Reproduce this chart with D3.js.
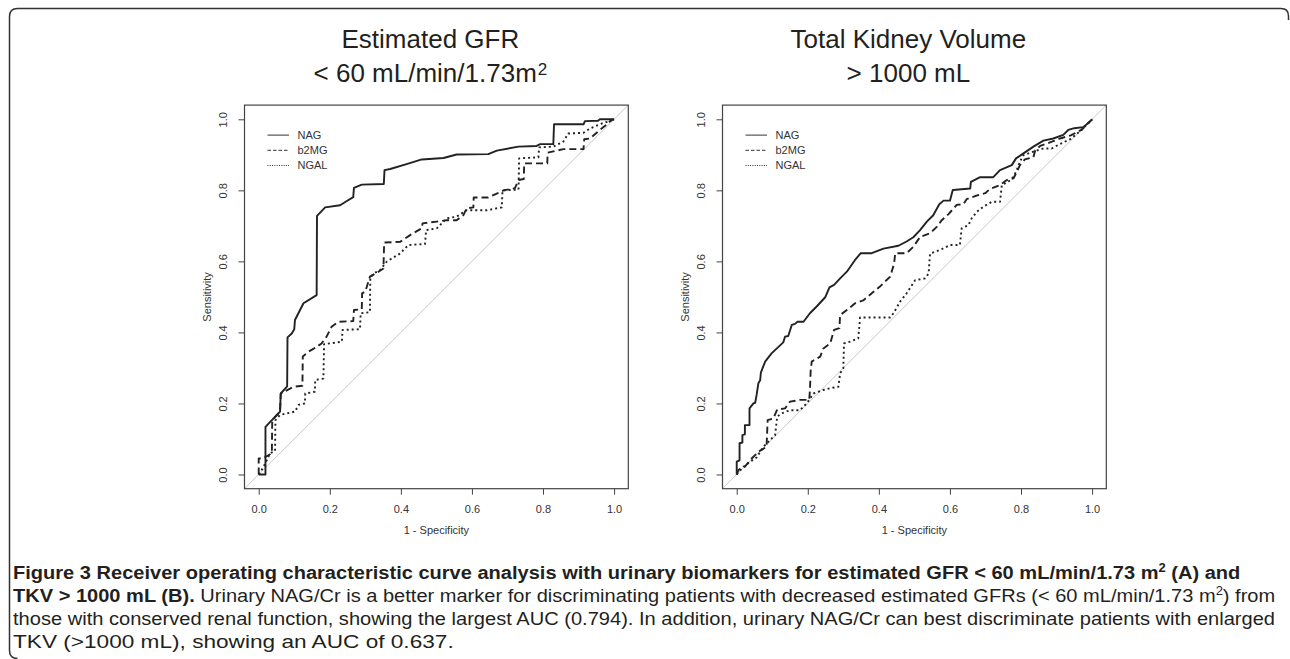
<!DOCTYPE html>
<html>
<head>
<meta charset="utf-8">
<style>
  body { margin: 0; background: #fff; }
  svg { display: block; }
  .plot-text { font-family: "Liberation Sans", Arial, sans-serif; fill: #333; }
  .title { font-family: "Liberation Sans", Arial, sans-serif; fill: #231f20; font-size: 26px; }
  .caption { font-family: "Liberation Sans", Arial, sans-serif; font-size: 18.5px; fill: #231f20; }
</style>
</head>
<body>
<svg id="chart" width="1290" height="659"></svg>
<script src="https://cdnjs.cloudflare.com/ajax/libs/d3/7.8.5/d3.min.js"></script>
<script>
    // ---- data: [1 - specificity, sensitivity] ----
    const xTicks = [0, 0.2, 0.4, 0.6, 0.8, 1.0];
    const yTicks = [0, 0.2, 0.4, 0.6, 0.8, 1.0];
    const seriesNames = ["NAG", "b2MG", "NGAL"];
    const titlesA = ["Estimated GFR", "< 60 mL/min/1.73m", "2"];
    const titlesB = ["Total Kidney Volume", "> 1000 mL", ""];

    const gfrNAG = [[0,0],[0.019,0],[0.019,0.134],[0.06,0.177],[0.062,0.228],[0.08,0.248],[0.081,0.386],[0.093,0.397],
        [0.1,0.409],[0.102,0.435],[0.126,0.482],[0.163,0.505],[0.164,0.728],[0.187,0.752],[0.229,0.758],[0.248,0.77],
        [0.266,0.781],[0.268,0.807],[0.29,0.816],[0.352,0.818],[0.354,0.857],[0.37,0.86],[0.416,0.874],[0.459,0.887],
        [0.52,0.891],[0.557,0.901],[0.646,0.902],[0.67,0.912],[0.731,0.923],[0.782,0.925],[0.792,0.93],[0.829,0.93],
        [0.831,0.986],[0.914,0.986],[0.918,0.995],[0.955,0.996],[0.96,1],[1,1]];
    const gfrB2MG = [[0,0],[0,0.045],[0.012,0.045],[0.02,0.05],[0.037,0.06],[0.038,0.153],[0.06,0.177],[0.062,0.228],
        [0.098,0.247],[0.123,0.25],[0.124,0.332],[0.14,0.346],[0.161,0.358],[0.177,0.369],[0.191,0.388],[0.205,0.416],
        [0.224,0.43],[0.266,0.432],[0.268,0.463],[0.29,0.465],[0.291,0.51],[0.3,0.515],[0.313,0.557],[0.337,0.571],
        [0.351,0.58],[0.353,0.653],[0.398,0.655],[0.426,0.674],[0.459,0.693],[0.461,0.707],[0.501,0.712],[0.529,0.716],
        [0.557,0.716],[0.576,0.73],[0.585,0.749],[0.604,0.752],[0.605,0.78],[0.646,0.78],[0.67,0.791],[0.689,0.8],
        [0.721,0.806],[0.731,0.829],[0.746,0.832],[0.747,0.876],[0.812,0.876],[0.813,0.906],[0.857,0.916],[0.914,0.916],
        [0.916,0.944],[0.932,0.946],[0.96,0.97],[0.98,0.986],[0.99,0.996],[1,1]];
    const gfrNGAL = [[0,0],[0.013,0.02],[0.032,0.06],[0.041,0.064],[0.046,0.066],[0.047,0.153],[0.06,0.168],[0.079,0.172],
        [0.102,0.177],[0.112,0.196],[0.13,0.2],[0.131,0.228],[0.158,0.233],[0.159,0.266],[0.182,0.27],[0.184,0.367],
        [0.2,0.369],[0.234,0.374],[0.236,0.407],[0.285,0.409],[0.287,0.454],[0.313,0.457],[0.314,0.552],[0.323,0.566],
        [0.341,0.575],[0.36,0.599],[0.374,0.608],[0.398,0.622],[0.421,0.646],[0.468,0.649],[0.471,0.688],[0.501,0.693],
        [0.529,0.721],[0.557,0.726],[0.585,0.744],[0.642,0.744],[0.684,0.752],[0.686,0.8],[0.731,0.802],[0.733,0.89],
        [0.787,0.893],[0.789,0.921],[0.829,0.923],[0.857,0.937],[0.871,0.96],[0.914,0.962],[0.932,0.974],[0.965,0.988],
        [0.98,0.993],[1,1]];

    const tkvNAG = [[0,0],[0,0.036],[0.008,0.04],[0.008,0.088],[0.016,0.09],[0.016,0.111],[0.023,0.113],[0.023,0.139],
        [0.036,0.139],[0.036,0.186],[0.047,0.2],[0.052,0.202],[0.056,0.224],[0.061,0.257],[0.066,0.265],[0.068,0.287],
        [0.08,0.318],[0.098,0.341],[0.113,0.355],[0.131,0.372],[0.136,0.388],[0.145,0.39],[0.155,0.421],[0.164,0.424],
        [0.171,0.43],[0.188,0.43],[0.206,0.454],[0.225,0.473],[0.249,0.499],[0.261,0.527],[0.274,0.534],[0.291,0.552],
        [0.31,0.571],[0.333,0.604],[0.349,0.623],[0.38,0.623],[0.413,0.636],[0.455,0.644],[0.478,0.656],[0.497,0.668],
        [0.516,0.688],[0.535,0.712],[0.553,0.73],[0.57,0.761],[0.582,0.771],[0.6,0.771],[0.608,0.801],[0.633,0.803],
        [0.657,0.805],[0.659,0.824],[0.685,0.837],[0.722,0.837],[0.741,0.857],[0.774,0.871],[0.786,0.89],[0.807,0.904],
        [0.835,0.923],[0.863,0.94],[0.891,0.946],[0.919,0.956],[0.933,0.97],[0.95,0.975],[0.975,0.978],[0.99,0.99],[1,1]];
    const tkvB2MG = [[0,0],[0.005,0.013],[0.023,0.022],[0.042,0.045],[0.061,0.064],[0.084,0.078],[0.087,0.153],[0.103,0.158],
        [0.114,0.183],[0.136,0.186],[0.15,0.205],[0.178,0.21],[0.204,0.21],[0.206,0.236],[0.208,0.29],[0.211,0.318],
        [0.235,0.332],[0.244,0.355],[0.263,0.369],[0.274,0.407],[0.289,0.412],[0.291,0.449],[0.31,0.463],[0.333,0.482],
        [0.356,0.49],[0.38,0.51],[0.403,0.529],[0.417,0.543],[0.432,0.557],[0.443,0.594],[0.446,0.623],[0.478,0.623],
        [0.497,0.641],[0.516,0.669],[0.544,0.679],[0.563,0.697],[0.577,0.716],[0.596,0.733],[0.619,0.759],[0.638,0.761],
        [0.647,0.775],[0.671,0.784],[0.699,0.792],[0.713,0.804],[0.741,0.815],[0.76,0.829],[0.779,0.834],[0.788,0.852],
        [0.797,0.871],[0.811,0.887],[0.835,0.894],[0.84,0.913],[0.854,0.925],[0.887,0.937],[0.91,0.946],[0.94,0.955],
        [0.97,0.97],[0.99,0.99],[1,1]];
    const tkvNGAL = [[0,0],[0.019,0.022],[0.038,0.036],[0.056,0.048],[0.075,0.078],[0.094,0.097],[0.108,0.111],[0.114,0.163],
        [0.126,0.172],[0.15,0.181],[0.178,0.181],[0.197,0.2],[0.216,0.228],[0.244,0.238],[0.263,0.243],[0.286,0.247],
        [0.291,0.285],[0.3,0.299],[0.302,0.369],[0.319,0.374],[0.342,0.383],[0.345,0.416],[0.347,0.442],[0.432,0.442],
        [0.441,0.454],[0.46,0.487],[0.478,0.51],[0.502,0.547],[0.53,0.552],[0.54,0.566],[0.544,0.622],[0.572,0.632],
        [0.6,0.646],[0.628,0.646],[0.633,0.693],[0.652,0.702],[0.661,0.721],[0.676,0.74],[0.694,0.754],[0.718,0.768],
        [0.741,0.768],[0.746,0.815],[0.764,0.824],[0.779,0.838],[0.788,0.857],[0.797,0.881],[0.807,0.899],[0.835,0.909],
        [0.863,0.918],[0.887,0.918],[0.905,0.928],[0.94,0.945],[0.97,0.97],[1,1]];

    // caption lines: [text, kind]
    const captionLines = [
        [["Figure 3 Receiver operating characteristic curve analysis with urinary biomarkers for estimated GFR < 60 mL/min/1.73 m", "b"], ["2", "bsup"], [" (A) and", "b"]],
        [["TKV > 1000 mL (B).", "b"], [" Urinary NAG/Cr is a better marker for discriminating patients with decreased estimated GFRs (< 60 mL/min/1.73 m", "r"], ["2", "sup"], [") from", "r"]],
        [["those with conserved renal function, showing the largest AUC (0.794). In addition, urinary NAG/Cr can best discriminate patients with enlarged", "r"]],
        [["TKV (>1000 mL), showing an AUC of 0.637.", "r"]]
    ];
    const captionWidths = [1228, 1263, 1263, 441];

    let svg = d3.select("#chart");

    // outer frame (rounded corners, right/bottom cut off)
    svg.append("path")
        .attr("d", "M17.5,658.5 Q9.5,658.5 9.5,650.5 L9.5,16.5 Q9.5,8.5 17.5,8.5 L1281,8.5 Q1288.5,8.5 1288.5,16 L1288.5,20")
        .attr("fill", "none")
        .attr("stroke", "#333")
        .attr("stroke-width", 1.5);

    const dashes = [null, "7,4", "2,3"];
    const legendDashes = [null, "3.5,2", "1,1.3"];

    function drawPanel(left, titles, curves) {
        let x = d3.scaleLinear().domain([-0.04, 1.04]).range([left, left + 383.8]);
        let y = d3.scaleLinear().domain([-0.04, 1.04]).range([488.7, 105.1]);
        let g = svg.append("g");
        let cx = (x.range()[0] + x.range()[1]) / 2;

        // title
        g.append("text").attr("class", "title").attr("text-anchor", "middle")
            .attr("x", cx - 6).attr("y", 48).text(titles[0]);
        let t2 = g.append("text").attr("class", "title").attr("text-anchor", "middle")
            .attr("x", cx - 6).attr("y", 82);
        t2.append("tspan").text(titles[1]);
        if (titles[2]) {
            t2.append("tspan").attr("font-size", 17).attr("dx", 1).attr("dy", -7).text(titles[2]);
        }

        // reference diagonal
        g.append("line")
            .attr("x1", x(-0.04)).attr("y1", y(-0.04))
            .attr("x2", x(1.04)).attr("y2", y(1.04))
            .attr("stroke", "#c8c8c8")
            .attr("stroke-width", 1);

        let line = d3.line().x((d) => x(d[0])).y((d) => y(d[1]));
        curves.forEach((c, i) => {
            g.append("path")
                .datum(c)
                .attr("d", line)
                .attr("fill", "none")
                .attr("stroke", "#222")
                .attr("stroke-width", 1.9)
                .attr("stroke-linejoin", "round")
                .attr("stroke-dasharray", dashes[i]);
        });

        // legend
        let lg = g.append("g").attr("transform", `translate(${x.range()[0]},${y.range()[1]})`);
        seriesNames.forEach((name, i) => {
            let yy = 30 + i * 15.2;
            lg.append("line")
                .attr("x1", 23).attr("x2", 44.5).attr("y1", yy).attr("y2", yy)
                .attr("stroke", "#333").attr("stroke-width", 1)
                .attr("stroke-dasharray", legendDashes[i]);
            lg.append("text").attr("class", "plot-text")
                .attr("x", 53).attr("y", yy + 4)
                .attr("font-size", 11)
                .text(name);
        });

        // box
        g.append("rect")
            .attr("x", x.range()[0]).attr("y", y.range()[1])
            .attr("width", x.range()[1] - x.range()[0])
            .attr("height", y.range()[0] - y.range()[1])
            .attr("fill", "none")
            .attr("stroke", "#444")
            .attr("stroke-width", 1.2);

        // axes
        let xAxis = d3.axisBottom(x).tickValues(xTicks).tickFormat(d3.format(".1f")).tickSize(6).tickPadding(11);
        g.append("g")
            .attr("transform", `translate(0,${y.range()[0]})`)
            .call(xAxis)
            .call((a) => a.select(".domain").remove())
            .call((a) => a.selectAll("line").attr("stroke", "#444"))
            .call((a) => a.selectAll("text").attr("class", "plot-text").attr("font-size", 11).attr("fill", null))
            .attr("font-family", null).attr("font-size", null);

        let yAxis = d3.axisLeft(y).tickValues(yTicks).tickFormat(d3.format(".1f")).tickSize(6);
        g.append("g")
            .attr("transform", `translate(${x.range()[0]},0)`)
            .call(yAxis)
            .call((a) => a.select(".domain").remove())
            .call((a) => a.selectAll("line").attr("stroke", "#444"))
            .call((a) => a.selectAll("text")
                .attr("class", "plot-text")
                .attr("font-size", 11)
                .attr("fill", null)
                .attr("x", null).attr("dy", null)
                .attr("text-anchor", "middle")
                .attr("transform", "translate(-17.5,0) rotate(-90)"))
            .attr("font-family", null).attr("font-size", null);

        g.append("text").attr("class", "plot-text")
            .attr("font-size", 11)
            .attr("text-anchor", "middle")
            .attr("transform", `translate(${cx},534)`)
            .text("1 - Specificity");
        g.append("text").attr("class", "plot-text")
            .attr("font-size", 11)
            .attr("text-anchor", "middle")
            .attr("transform", `translate(${x.range()[0] - 33.5},${(y.range()[0] + y.range()[1]) / 2}) rotate(-90)`)
            .text("Sensitivity");
    }

    drawPanel(244.5, titlesA, [gfrNAG, gfrB2MG, gfrNGAL]);
    drawPanel(722.5, titlesB, [tkvNAG, tkvB2MG, tkvNGAL]);

    // caption
    const baselines = [579, 602, 625, 648];
    captionLines.forEach((segs, i) => {
        let t = svg.append("text").attr("class", "caption");
        segs.forEach(([txt, kind], j) => {
            let s = t.append("tspan").text(txt);
            if (kind === "b" || kind === "bsup") s.attr("font-weight", "bold");
            if (kind === "sup" || kind === "bsup") s.attr("font-size", 12).attr("dy", -7);
            else if (j > 0 && segs[j - 1][1].includes("sup")) s.attr("dy", 7);
        });
        let w = t.node().getComputedTextLength();
        t.attr("transform", `translate(13,${baselines[i]}) scale(${captionWidths[i] / w},1)`);
    });
</script>
</body>
</html>
